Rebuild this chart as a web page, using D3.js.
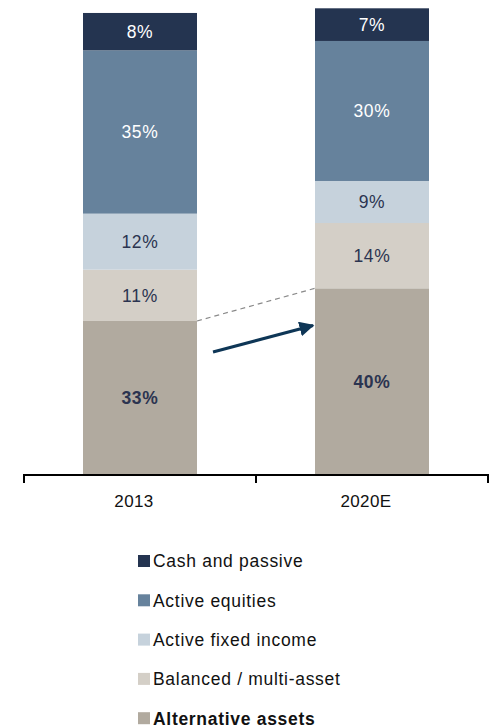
<!DOCTYPE html>
<html>
<head>
<meta charset="utf-8">
<script src="https://cdn.jsdelivr.net/npm/d3@7"></script>
<style>
  body { margin: 0; background: #fff; }
  svg { display: block; font-family: "Liberation Sans", Arial, sans-serif; }
</style>
</head>
<body>
<svg id="chart" width="495" height="727"></svg>
<script>
const years = ["2013", "2020E"];
const seriesNames = ["Alternative assets", "Balanced / multi-asset", "Active fixed income", "Active equities", "Cash and passive"];
const alternative = [33, 40];
const balanced = [11, 14];
const fixedIncome = [12, 9];
const equities = [35, 30];
const cash = [8, 7];
const colors = ["#b1aa9f", "#d4cfc7", "#c6d2dc", "#66829c", "#243450"];
const labelColors = ["#2b3450", "#2b3450", "#2b3450", "#ffffff", "#ffffff"];

const rows = years.map((y, i) => ({
  year: y,
  "Alternative assets": alternative[i],
  "Balanced / multi-asset": balanced[i],
  "Active fixed income": fixedIncome[i],
  "Active equities": equities[i],
  "Cash and passive": cash[i]
}));

const svg = d3.select("#chart");

const x = d3.scaleBand().domain(years).range([24, 488]).padding(0);
const barW = 114;
const y = d3.scaleLinear().domain([0, 100]).range([475, 8.3]);

const stack = d3.stack().keys(seriesNames);
const layers = stack(rows);

const g = svg.append("g");

layers.forEach((layer, li) => {
  const lg = g.append("g");
  lg.selectAll("rect")
    .data(layer)
    .enter()
    .append("rect")
    .attr("x", d => x(d.data.year) + x.bandwidth() / 2 - barW / 2)
    .attr("width", barW)
    .attr("y", d => y(d[1]))
    .attr("height", d => y(d[0]) - y(d[1]))
    .attr("fill", colors[li]);

  lg.selectAll("text")
    .data(layer)
    .enter()
    .append("text")
    .attr("x", d => x(d.data.year) + x.bandwidth() / 2)
    .attr("y", d => (y(d[0]) + y(d[1])) / 2)
    .attr("dy", "0.36em")
    .attr("text-anchor", "middle")
    .style("font-size", "17.5px")
    .style("letter-spacing", "0.7px")
    .style("font-weight", li === 0 ? "bold" : "normal")
    .style("fill", labelColors[li])
    .text(d => (d[1] - d[0]) + "%");
});

// dashed connector between tops of alternative assets
const c0 = x(years[0]) + x.bandwidth() / 2 + barW / 2;
const c1 = x(years[1]) + x.bandwidth() / 2 - barW / 2;
svg.append("line")
  .attr("x1", c0).attr("y1", y(alternative[0]))
  .attr("x2", c1).attr("y2", y(alternative[1]))
  .attr("stroke", "#8a8a8a")
  .attr("stroke-width", 1.2)
  .attr("stroke-dasharray", "5,4");

// arrow
svg.append("defs").append("marker")
  .attr("id", "arrowhead")
  .attr("viewBox", "0 0 10 10")
  .attr("refX", 9).attr("refY", 5)
  .attr("markerWidth", 5).attr("markerHeight", 5)
  .attr("markerUnits", "strokeWidth")
  .attr("orient", "auto")
  .append("path")
  .attr("d", "M0,0 L10,5 L0,10 Z")
  .attr("fill", "#0e3656");

svg.append("line")
  .attr("x1", c0 + 16).attr("y1", 352)
  .attr("x2", c1 - 2).attr("y2", 325.5)
  .attr("stroke", "#0e3656")
  .attr("stroke-width", 3)
  .attr("marker-end", "url(#arrowhead)");

// axis
const axisY = y(0);
svg.append("line")
  .attr("x1", 24).attr("x2", 488)
  .attr("y1", axisY).attr("y2", axisY)
  .attr("stroke", "#000").attr("stroke-width", 2);

const bounds = [x(years[0]), x(years[1]), x(years[1]) + x.bandwidth()];
svg.selectAll(".tick-mark")
  .data(bounds)
  .enter()
  .append("line")
  .attr("x1", d => d).attr("x2", d => d)
  .attr("y1", axisY - 1).attr("y2", axisY + 8)
  .attr("stroke", "#000").attr("stroke-width", 2);

svg.selectAll(".year-label")
  .data(years)
  .enter()
  .append("text")
  .attr("x", d => x(d) + x.bandwidth() / 2 - 6)
  .attr("y", 507)
  .attr("text-anchor", "middle")
  .style("font-size", "17px")
  .style("letter-spacing", "0.4px")
  .style("fill", "#111")
  .text(d => d);

// legend
const legendNames = seriesNames.slice().reverse();
const legendColors = colors.slice().reverse();
const legend = svg.append("g");
legendNames.forEach((name, i) => {
  const cy = 561 + i * 39.3;
  legend.append("rect")
    .attr("x", 138).attr("y", cy - 6)
    .attr("width", 12).attr("height", 12)
    .attr("fill", legendColors[i]);
  legend.append("text")
    .attr("x", 153).attr("y", cy)
    .attr("dy", "0.36em")
    .style("font-size", "17.5px")
    .style("letter-spacing", "0.7px")
    .style("font-weight", name === "Alternative assets" ? "bold" : "normal")
    .style("fill", "#111")
    .text(name);
});
</script>
</body>
</html>
